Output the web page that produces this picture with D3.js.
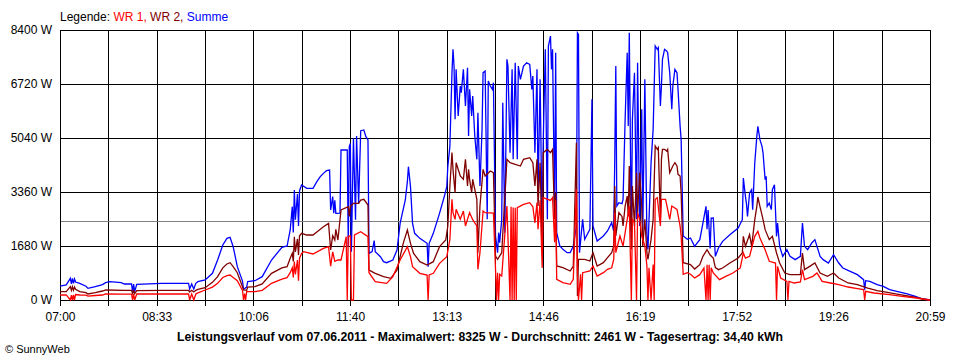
<!DOCTYPE html>
<html><head><meta charset="utf-8">
<script src="https://cdn.jsdelivr.net/npm/d3@7"></script>
<style>
body{margin:0;background:#fff;}
svg{display:block;}
text{font-family:"Liberation Sans",Arial,sans-serif;}
</style>
</head><body>
<svg id="c" width="960" height="360"></svg>
<script>
// x labels (minutes after 07:00 map linearly to 07:00 .. 20:59)
const timeLabels = ["07:00","08:33","10:06","11:40","13:13","14:46","16:19","17:52","19:26","20:59"];
const yTicks = [0,1680,3360,5040,6720,8400];
const averageW = 2461;
const titleText = "Leistungsverlauf vom 07.06.2011 - Maximalwert: 8325 W - Durchschnitt: 2461 W - Tagesertrag: 34,40 kWh";

// [minutes after 07:00, W]
const summe = [[0,435],[6,470],[10,674],[11,500],[12,674],[13,520],[14,650],[15,560],[19,518],[25,430],[27,363],[34,415],[41,480],[44,539],[48,570],[59,540],[62,498],[69,498],[70,259],[71,498],[72,259],[74,487],[98,518],[124,518],[125,342],[127,500],[129,342],[131,520],[133,570],[140,622],[147,830],[152,1244],[157,1711],[161,1918],[164,1950],[167,1659],[171,1037],[176,590],[177,332],[180,400],[181,570],[188,600],[195,726],[204,1244],[214,1638],[219,1680],[222,2178],[224,2904],[225,2100],[226,3422],[227,2500],[229,3300],[230,2300],[231,3400],[233,3578],[238,3474],[244,3474],[248,3700],[251,3837],[254,3940],[257,4023],[260,4044],[261,2800],[263,3215],[264,2700],[265,3100],[266,2696],[270,2700],[271,4667],[277,4667],[278,1660],[279,4770],[280,4874],[281,1500],[283,5030],[285,2500],[286,5100],[288,3000],[290,5268],[293,5290],[295,5081],[297,4978],[298,1452],[301,1504],[303,1850],[304,1504],[309,1348],[312,1192],[315,1161],[321,1244],[325,1555],[328,2385],[333,3111],[335,3681],[336,4148],[338,3526],[340,2385],[342,2074],[347,1918],[354,1763],[355,1037],[356,1763],[360,2074],[366,2696],[371,3267],[373,3526],[374,4148],[376,4791],[378,7072],[379,7798],[380,7280],[381,5620],[382,7176],[384,5724],[386,6658],[387,6450],[389,7176],[391,6035],[393,7228],[394,5102],[395,6554],[397,5724],[398,6346],[400,5102],[402,4376],[403,5828],[405,3547],[407,5309],[408,7072],[410,7124],[412,2510],[413,6813],[415,6658],[417,6554],[418,6761],[420,1991],[422,1472],[423,2095],[424,1784],[426,2510],[427,6139],[429,2095],[431,7487],[432,7280],[434,4584],[436,7176],[437,4376],[439,7383],[441,4376],[442,7280],[444,6865],[447,7280],[450,7383],[453,7330],[455,6554],[456,6969],[458,4584],[460,7176],[461,3235],[463,6865],[465,1991],[466,4895],[468,7798],[470,2510],[471,7902],[473,8213],[474,7176],[475,7798],[477,2717],[478,7694],[479,2095],[482,1680],[485,1576],[489,1472],[492,1472],[495,1680],[498,2302],[499,8317],[500,8265],[501,1472],[504,2510],[506,1887],[511,2198],[513,6243],[514,2302],[518,1835],[524,1991],[528,2147],[532,2406],[534,2147],[535,4376],[536,7280],[537,2924],[539,3028],[542,3000],[543,3132],[545,5620],[547,7694],[548,5413],[549,8317],[551,1887],[552,5620],[554,7072],[556,2510],[557,7383],[559,2302],[561,5932],[562,2095],[564,6865],[566,1991],[567,1576],[570,4272],[572,5309],[574,7902],[576,7798],[577,7850],[579,6035],[580,6658],[581,7487],[583,7798],[585,7750],[586,7694],[588,7072],[590,5932],[591,6658],[593,7176],[595,7072],[596,6554],[598,5413],[599,4998],[601,1991],[605,1887],[608,1929],[612,1670],[617,1877],[620,2395],[623,2914],[624,2200],[625,2800],[627,1600],[628,2550],[630,2551],[632,1358],[635,1618],[639,1825],[646,2033],[654,2240],[658,2499],[659,3795],[661,3225],[662,3000],[663,2603],[665,3329],[667,3432],[668,2810],[670,4262],[672,5092],[673,5403],[675,4988],[677,4780],[678,4573],[680,3744],[681,3847],[682,2914],[684,3018],[686,2810],[687,3432],[689,3588],[691,1981],[692,2395],[694,1670],[697,1358],[701,1566],[704,1358],[709,1255],[714,1358],[716,2395],[718,1670],[721,1566],[725,1773],[728,1877],[733,1358],[736,1255],[741,1151],[746,1410],[751,1151],[755,996],[762,892],[769,788],[775,633],[776,321],[777,600],[781,581],[788,477],[794,425],[800,321],[807,270],[817,187],[825,114],[832,31],[839,0]];

const wr2 = [[0,259],[6,260],[10,415],[11,300],[12,415],[13,300],[14,400],[15,330],[19,259],[25,230],[27,187],[34,230],[41,280],[44,311],[62,300],[69,300],[70,200],[71,290],[72,200],[74,290],[98,300],[124,300],[125,250],[127,300],[129,250],[131,300],[133,330],[140,383],[147,550],[152,726],[157,1000],[161,1120],[164,1161],[167,1037],[171,850],[176,415],[177,311],[180,300],[181,400],[188,415],[195,500],[204,830],[214,1000],[219,1037],[222,1300],[224,1452],[225,1200],[226,1970],[227,1500],[229,1900],[230,1400],[231,2000],[233,2074],[238,2022],[244,2022],[248,2126],[254,2281],[259,2385],[261,1555],[263,2000],[265,1866],[266,2200],[268,1866],[271,2800],[278,2904],[279,2600],[280,2904],[283,3007],[288,3007],[290,3111],[293,3132],[297,2955],[298,933],[304,829],[312,726],[319,674],[325,933],[331,1763],[335,2178],[338,1763],[341,1452],[347,1192],[354,1089],[360,1192],[366,1659],[372,1866],[374,2302],[376,3547],[378,4584],[379,4065],[381,3339],[382,4272],[386,3858],[389,3754],[391,4376],[393,3547],[394,4065],[395,3754],[397,3339],[398,3754],[402,3132],[403,1472],[405,2924],[408,4065],[410,3858],[415,4013],[418,3961],[420,1369],[422,1265],[426,1472],[431,4376],[434,4272],[439,4220],[444,4169],[447,4376],[453,4428],[456,4272],[458,3547],[460,4376],[461,2924],[463,4272],[465,1472],[466,4584],[470,4688],[473,4584],[475,4688],[477,2510],[478,3339],[479,1058],[485,1006],[492,902],[495,1058],[498,4895],[499,124],[500,1265],[506,1265],[511,1213],[514,1472],[518,1058],[524,1161],[528,1317],[532,1472],[534,1680],[535,3547],[536,1991],[539,2717],[542,2600],[543,2302],[545,2924],[547,3235],[548,2600],[549,4169],[551,1576],[552,3547],[554,2302],[556,3961],[557,2717],[559,3961],[561,2924],[562,1680],[564,2510],[566,1472],[567,1265],[570,1887],[572,2510],[574,4791],[576,4688],[577,4740],[579,2510],[580,4376],[581,4688],[583,4688],[585,4636],[586,4688],[588,3961],[591,4169],[593,4272],[595,4169],[596,3909],[598,3858],[599,3339],[601,1161],[608,1099],[612,964],[617,1099],[620,1358],[624,1566],[627,1400],[630,1307],[632,1006],[635,944],[639,996],[646,1151],[654,1307],[658,1462],[659,1981],[661,1670],[665,2033],[667,1670],[670,2499],[672,2914],[673,3204],[675,2914],[678,2499],[680,2188],[684,1877],[687,1981],[691,1462],[694,1151],[699,840],[704,788],[714,788],[716,1462],[718,944],[723,1047],[728,1151],[733,840],[740,736],[746,840],[751,684],[760,529],[769,477],[779,373],[788,290],[798,238],[810,166],[823,93],[832,31],[839,0]];

const wr1 = [[0,156],[6,160],[10,0],[11,150],[12,0],[13,160],[14,0],[15,170],[19,156],[25,150],[27,120],[34,140],[41,155],[44,187],[62,180],[69,180],[70,0],[71,187],[72,0],[74,187],[124,187],[125,0],[127,187],[129,0],[131,187],[133,220],[140,311],[147,400],[152,518],[157,700],[161,760],[164,778],[167,700],[171,600],[176,300],[177,0],[178,200],[179,0],[180,259],[188,259],[195,300],[204,518],[214,650],[219,695],[222,850],[224,1000],[225,700],[226,1200],[227,800],[229,1244],[230,600],[231,1300],[233,1452],[235,1504],[244,1431],[254,1607],[259,1659],[261,1050],[263,1500],[265,1200],[268,1244],[271,1244],[276,1970],[277,0],[278,1980],[280,1990],[281,0],[283,0],[284,2022],[290,2126],[297,1970],[298,850],[304,570],[315,518],[321,726],[328,1244],[335,1659],[338,1348],[340,1037],[347,830],[354,778],[355,0],[356,778],[360,830],[366,1140],[373,1348],[376,1887],[378,3132],[379,2717],[381,2510],[382,2820],[386,2510],[389,2769],[391,2302],[395,2717],[398,2500],[402,2302],[403,954],[405,1472],[408,2769],[410,2717],[418,2700],[420,954],[421,0],[422,850],[423,0],[424,800],[426,747],[431,2924],[434,0],[435,2900],[436,0],[437,2880],[438,0],[439,2870],[440,0],[441,2872],[447,2976],[453,3028],[456,2900],[458,2400],[460,3028],[461,2200],[463,3100],[465,1000],[466,3184],[473,3100],[475,3184],[477,1800],[478,3100],[479,643],[485,539],[492,487],[495,643],[498,3443],[499,800],[500,0],[502,800],[503,0],[504,850],[511,902],[514,1058],[518,747],[524,850],[528,954],[532,1000],[534,1265],[535,2717],[536,1472],[540,1991],[543,1680],[547,2510],[549,2924],[551,0],[552,2510],[554,2400],[556,0],[557,2717],[559,2510],[561,1991],[564,1680],[566,1058],[567,0],[568,1000],[570,0],[572,1100],[573,0],[574,3132],[576,3184],[579,2302],[580,3132],[584,3132],[588,2510],[590,2924],[595,2820],[598,2302],[599,1991],[601,798],[605,850],[608,800],[612,684],[617,788],[621,996],[623,0],[624,1099],[625,0],[626,1099],[627,0],[628,1000],[630,840],[636,633],[642,736],[649,840],[656,996],[659,1462],[661,1300],[665,1358],[670,1981],[673,2136],[675,1929],[680,1566],[684,1203],[690,1151],[691,0],[692,1047],[695,684],[701,581],[702,0],[703,581],[708,529],[714,560],[716,944],[718,633],[726,736],[730,840],[735,581],[743,529],[751,477],[760,404],[769,352],[775,321],[776,0],[777,270],[785,218],[800,166],[812,114],[826,62],[832,31],[839,0]];

const totalMin = 839;
const svg = d3.select("#c");
const x = d3.scaleLinear().domain([0, totalMin]).range([60, 930]);
const y = d3.scaleLinear().domain([0, 8400]).range([300, 30]);

// legend
const leg = svg.append("text").attr("x", 60).attr("y", 21).attr("font-size", 12);
leg.append("tspan").attr("fill", "#000").text("Legende: ");
leg.append("tspan").attr("fill", "#ff0000").text("WR 1, ");
leg.append("tspan").attr("fill", "#800000").text("WR 2, ");
leg.append("tspan").attr("fill", "#0000ff").text("Summe");

// vertical gridlines (every half label interval)
const vTicks = d3.range(0, 19).map(i => i * totalMin / 18);
svg.append("g").selectAll("line").data(vTicks).join("line")
  .attr("x1", d => Math.round(x(d)) + 0.5).attr("x2", d => Math.round(x(d)) + 0.5)
  .attr("y1", y(8400)).attr("y2", y(0) + 6)
  .attr("stroke", "#000").attr("stroke-width", 1);

// horizontal gridlines
svg.append("g").selectAll("line").data(yTicks).join("line")
  .attr("x1", 60).attr("x2", 931)
  .attr("y1", d => Math.round(y(d)) + 0.5).attr("y2", d => Math.round(y(d)) + 0.5)
  .attr("stroke", "#000").attr("stroke-width", 1);

// average line
svg.append("line").attr("x1", 61).attr("x2", 930)
  .attr("y1", Math.round(y(averageW)) + 0.5).attr("y2", Math.round(y(averageW)) + 0.5)
  .attr("stroke", "#808080").attr("stroke-width", 1);

// y labels
const yAxis = d3.axisLeft(y).tickValues(yTicks).tickSize(0).tickPadding(8).tickFormat(d => d + " W");
const gy = svg.append("g").attr("transform", "translate(60,0)").call(yAxis);
gy.select(".domain").remove();
gy.selectAll("text").attr("font-size", 12).attr("font-family", "Liberation Sans, Arial, sans-serif").attr("fill", "#000");

// x labels
const xAxis = d3.axisBottom(x).tickValues(timeLabels.map((t, i) => i * totalMin / 9))
  .tickSize(0).tickPadding(12).tickFormat((d, i) => timeLabels[i]);
const gx = svg.append("g").attr("transform", "translate(0,300)").call(xAxis);
gx.select(".domain").remove();
gx.selectAll("text").attr("font-size", 12).attr("font-family", "Liberation Sans, Arial, sans-serif").attr("fill", "#000");

// series
const line = d3.line().x(d => x(d[0])).y(d => y(d[1])).curve(d3.curveLinear);
const series = [{data: summe, color: "#0000ff"}, {data: wr2, color: "#800000"}, {data: wr1, color: "#ff0000"}];
svg.append("g").selectAll("path").data(series).join("path")
  .attr("d", d => line(d.data))
  .attr("fill", "none").attr("stroke", d => d.color).attr("stroke-width", 1.3)
  .attr("stroke-linejoin", "miter");

// title
svg.append("text").attr("x", 177).attr("y", 341).attr("font-size", 12).attr("font-weight", "bold")
  .attr("textLength", 606).attr("lengthAdjust", "spacingAndGlyphs").attr("fill", "#000").text(titleText);

svg.append("text").attr("x", 5).attr("y", 353).attr("font-size", 11).attr("fill", "#000").text("\u00a9 SunnyWeb");
</script>
</body></html>
